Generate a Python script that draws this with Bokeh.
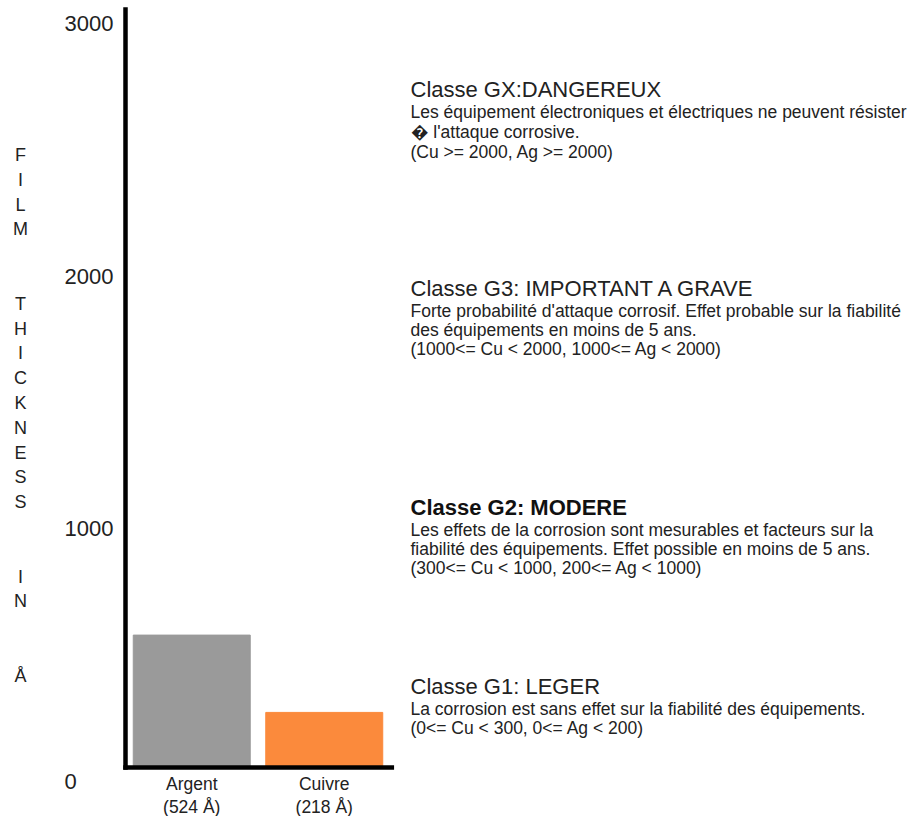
from bokeh.plotting import figure
from bokeh.models import Range1d, ColumnDataSource
from bokeh.embed import file_html
from bokeh.resources import INLINE
from bokeh.core.properties import value

# ---------------- data ----------------
metals = ["Argent", "Cuivre"]
thickness = [524, 218]
bar_colors = ["#9a9a9a", "#fb8a3c"]
y_ticks = [0, 1000, 2000, 3000]
y_title = "FILM THICKNESS IN Å"

class_titles = [
    "Classe GX:DANGEREUX",
    "Classe G3: IMPORTANT A GRAVE",
    "Classe G2: MODERE",
    "Classe G1: LEGER",
]
class_bold = [False, False, True, False]
class_lines = [
    ["Les équipement électroniques et électriques ne peuvent résister",
     "\ufffd l'attaque corrosive.",
     "(Cu >= 2000, Ag >= 2000)"],
    ["Forte probabilité d'attaque corrosif. Effet probable sur la fiabilité",
     "des équipements en moins de 5 ans.",
     "(1000<= Cu < 2000, 1000<= Ag < 2000)"],
    ["Les effets de la corrosion sont mesurables et facteurs sur la",
     "fiabilité des équipements. Effet possible en moins de 5 ans.",
     "(300<= Cu < 1000, 200<= Ag < 1000)"],
    ["La corrosion est sans effet sur la fiabilité des équipements.",
     "(0<= Cu < 300, 0<= Ag < 200)"],
]

# ---------------- layout (pixels of the canvas) ----------------
W, H = 912, 816
AXIS_X = 125          # canvas x of the value axis
ZERO_Y = 767          # canvas y of value 0
TOP_Y = 9             # canvas y of value 3000
UNIT_PX = 132.5       # px between bar centres
X0 = 0.5
Y_MAX = 3000
PX_PER_Y = (ZERO_Y - TOP_Y) / Y_MAX

def px_x(px):
    return X0 + (px - AXIS_X) / UNIT_PX

def px_y(py):
    return (ZERO_Y - py) / PX_PER_Y

FONT = value("Liberation Sans")
TXT = "#222222"

p = figure(width=W, height=H, output_backend="svg", toolbar_location=None,
           x_range=Range1d(px_x(0), px_x(W)), y_range=Range1d(px_y(H), px_y(0)),
           x_axis_location=None, y_axis_location=None, min_border=0)
p.grid.visible = False
p.outline_line_color = None
p.background_fill_color = "white"
p.border_fill_color = "white"

# bars
positions = [i + 1 for i in range(len(metals))]
src = ColumnDataSource(dict(x=positions, top=thickness, color=bar_colors, name=metals))
p.vbar(x="x", top="top", bottom=0, width=0.883, color="color", source=src)

# axes lines (value axis and category baseline)
p.segment(x0=[X0], y0=[0], x1=[X0], y1=[Y_MAX], line_color="black",
          line_width=4.5, line_cap="square")
p.segment(x0=[X0], y0=[0], x1=[positions[-1] + 0.51], y1=[0], line_color="black",
          line_width=4.5, line_cap="square")

# value tick labels (drawn slightly below their tick, left aligned)
p.text(x=[px_x(64)] * len(y_ticks), y=[t - 14 / PX_PER_Y for t in y_ticks],
       text=[str(t) for t in y_ticks], text_font=FONT, text_font_size="22px",
       text_color=TXT, text_align="left", text_baseline="middle")

# category labels
p.text(x=positions, y=[-16 / PX_PER_Y] * len(positions), text=metals,
       text_font=FONT, text_font_size="17.5px", text_color=TXT,
       text_align="center", text_baseline="middle")
p.text(x=positions, y=[-39 / PX_PER_Y] * len(positions),
       text=[f"({v} Å)" for v in thickness],
       text_font=FONT, text_font_size="17.5px", text_color=TXT,
       text_align="center", text_baseline="middle")

# stacked vertical axis title
stack = "\n\n\n".join("\n".join(list(w)) for w in y_title.split(" "))
p.text(x=[px_x(20)], y=[px_y(415)], text=[stack], text_font=FONT,
       text_font_size="18px", text_line_height=1.24, text_color=TXT,
       text_align="center", text_baseline="middle")

# class descriptions
title_centres = [89, 288, 507, 686]
line_gap = [20, 19, 19, 19]
tx, ty, tt = [], [], []
bx, by, bt = [], [], []
lx, ly, lt = [], [], []
for title, bold, lines, yc, gap in zip(class_titles, class_bold, class_lines, title_centres, line_gap):
    if bold:
        bx.append(px_x(410)); by.append(px_y(yc)); bt.append(title)
    else:
        tx.append(px_x(410)); ty.append(px_y(yc)); tt.append(title)
    for k, ln in enumerate(lines):
        lx.append(px_x(410)); ly.append(px_y(yc + 22 + k * gap)); lt.append(ln)

p.text(x=tx, y=ty, text=tt, text_font=FONT, text_font_size="22px",
       text_color=TXT, text_baseline="middle", text_align="left")
p.text(x=bx, y=by, text=bt, text_font=FONT, text_font_size="22px",
       text_font_style="bold", text_color="#111111",
       text_baseline="middle", text_align="left")
p.text(x=lx, y=ly, text=lt, text_font=FONT, text_font_size="17.5px",
       text_color=TXT, text_baseline="middle", text_align="left")

open("out.html", "w").write(file_html(p, INLINE))
